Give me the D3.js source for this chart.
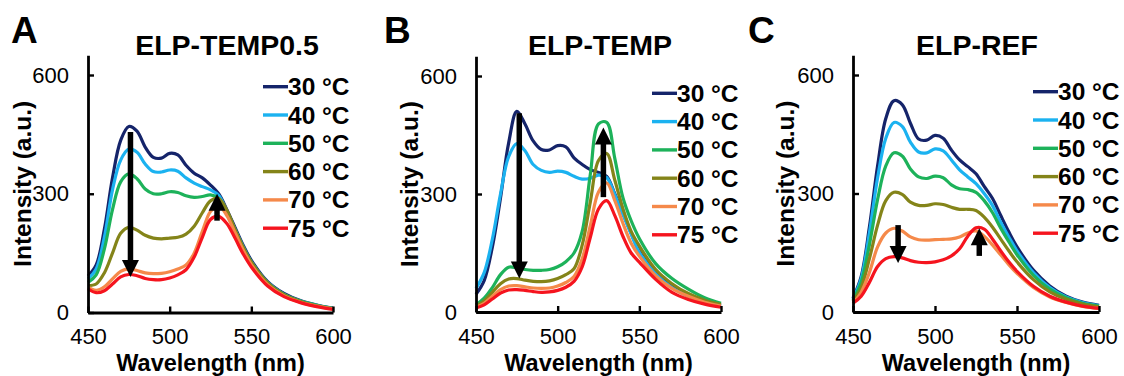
<!DOCTYPE html>
<html>
<head>
<meta charset="utf-8">
<script src="https://cdn.jsdelivr.net/npm/d3@7"></script>
<style>
  html, body { margin: 0; padding: 0; background: #fff; }
  svg { display: block; font-family: "Liberation Sans", Arial, sans-serif; }
</style>
</head>
<body>
<svg id="chart" width="1124" height="376"></svg>
<script>
// Emission spectra (a.u.) of three ELP constructs at six temperatures
const wavelengths = [450,455,460,465,470,475,480,485,490,495,500,505,510,515,520,525,530,535,540,545,550,560,570,580,590,600];
const temperatures = ["30 °C","40 °C","50 °C","60 °C","70 °C","75 °C"];
const xTicks = [450, 500, 550, 600];
const yTicks = [0, 300, 600];

const spectraTEMP05 = [
  [92,120,210,340,435,470,458,418,392,390,402,398,372,352,340,322,300,260,215,170,132,78,48,30,19,11],
  [85,110,190,310,385,413,405,375,356,355,360,357,340,327,318,310,296,255,210,166,128,76,46,29,18,10],
  [76,95,160,260,330,350,338,312,300,300,305,303,295,291,293,297,288,253,208,164,127,75,46,29,18,10],
  [68,72,100,150,200,215,208,195,188,186,188,190,198,218,252,282,288,258,210,165,127,75,45,28,17,10],
  [64,56,65,85,104,110,106,100,98,99,103,110,120,150,205,255,270,245,202,158,121,70,42,26,16,9],
  [60,50,55,72,90,96,93,86,83,83,87,95,108,140,190,235,243,225,188,148,115,67,40,25,15,8]
];
const spectraTEMP = [
  [45,80,165,290,430,510,478,435,413,412,423,420,392,375,362,355,345,300,250,200,155,100,65,42,27,17],
  [60,100,185,300,395,428,410,375,360,355,358,355,345,338,340,348,342,298,248,198,152,97,62,40,25,15],
  [18,35,62,95,114,112,108,106,106,108,115,128,150,205,350,478,482,390,290,232,187,123,85,58,36,22],
  [15,28,50,72,84,85,81,78,77,79,85,95,110,170,280,385,403,335,262,205,168,108,72,47,30,19],
  [12,22,40,57,66,67,64,61,60,61,66,75,90,135,220,305,328,283,225,175,142,92,60,40,25,15],
  [10,18,33,48,56,57,55,52,50,51,55,63,78,115,190,262,283,245,192,150,127,83,50,32,20,12]
];
const spectraREF = [
  [35,90,215,370,490,535,525,478,438,435,447,440,410,385,368,350,318,288,245,203,165,106,66,40,25,17],
  [33,85,200,340,440,480,470,430,405,403,413,408,385,360,342,325,300,270,228,190,155,100,62,38,24,16],
  [30,75,170,285,370,403,395,362,342,338,344,340,322,312,310,303,282,252,213,178,145,93,58,36,22,15],
  [26,62,135,220,282,303,298,278,270,270,274,272,265,260,260,257,240,215,185,155,127,82,51,32,20,13],
  [22,50,100,165,200,212,205,190,183,182,183,184,185,190,200,205,192,170,145,120,98,62,38,24,14,9],
  [22,40,75,115,135,140,137,130,126,125,127,132,142,160,192,213,210,185,155,127,103,65,40,25,15,9]
];

// Trend arrows: wavelength and start/end intensity
const arrowsTEMP05 = [{ wl: 476, from: 456, to: 90 }, { wl: 529, from: 232, to: 300 }];
const arrowsTEMP   = [{ wl: 476.5, from: 505, to: 85 }, { wl: 528, from: 292, to: 469 }];
const arrowsREF    = [{ wl: 477.5, from: 220, to: 124 }, { wl: 527, from: 142, to: 212 }];

const seriesColors = ["#15246a", "#1bb2f0", "#1db25a", "#848419", "#f5894a", "#f5141e"];

const panels = [
  { letter: "A", title: "ELP-TEMP0.5", data: spectraTEMP05, arrows: arrowsTEMP05,
    x0: 88, x1: 333, y0: 312.5, y600: 75, titleX: 227, letterX: 11, yTitleX: 31,
    legendX: 263, legendY: 86.7 },
  { letter: "B", title: "ELP-TEMP", data: spectraTEMP, arrows: arrowsTEMP,
    x0: 476, x1: 721, y0: 312, y600: 76, titleX: 600, letterX: 384, yTitleX: 418,
    legendX: 652, legendY: 93.3 },
  { letter: "C", title: "ELP-REF", data: spectraREF, arrows: arrowsREF,
    x0: 853, x1: 1099, y0: 312, y600: 75, titleX: 977, letterX: 748, yTitleX: 794,
    legendX: 1033, legendY: 91.7 }
];

const svg = d3.select("#chart");

panels.forEach(p => {
  const g = svg.append("g");
  const x = d3.scaleLinear().domain([450, 600]).range([p.x0, p.x1]);
  const yTop = p.y0 - (p.y0 - p.y600) * 650 / 600;
  const y = d3.scaleLinear().domain([0, 650]).range([p.y0, yTop]);

  // spectra
  const line = d3.line()
    .x((d, i) => x(wavelengths[i]))
    .y(d => y(d))
    .curve(d3.curveCatmullRom.alpha(0.5));
  p.data.forEach((vals, k) => {
    g.append("path")
      .attr("d", line(vals))
      .attr("fill", "none")
      .attr("stroke", seriesColors[k])
      .attr("stroke-width", 3.2)
      .attr("stroke-linejoin", "round");
  });

  // axes
  const xAxis = d3.axisBottom(x).tickValues(xTicks).tickSizeInner(-6).tickSizeOuter(0).tickPadding(16);
  const yAxis = d3.axisLeft(y).tickValues(yTicks).tickSizeInner(-6).tickSizeOuter(0).tickPadding(19);
  const gx = g.append("g").attr("transform", `translate(0,${p.y0})`).call(xAxis);
  const gy = g.append("g").attr("transform", `translate(${p.x0},0)`).call(yAxis);
  [gx, gy].forEach(a => {
    a.select(".domain").attr("stroke", "#000").attr("stroke-width", 2.8);
    a.selectAll(".tick line").attr("stroke", "#000").attr("stroke-width", 2.4);
    a.selectAll(".tick text").attr("fill", "#000").style("font-size", "22px")
      .style("font-family", "'Liberation Sans', Arial, sans-serif");
  });

  // arrows
  p.arrows.forEach(a => {
    const ax = x(a.wl), yFrom = y(a.from), yTip = y(a.to);
    const dir = yTip > yFrom ? 1 : -1;
    const headH = 17, headW = 17;
    const yBase = yTip - dir * headH;
    g.append("line")
      .attr("x1", ax).attr("x2", ax)
      .attr("y1", yFrom).attr("y2", yBase + dir * 1)
      .attr("stroke", "#000").attr("stroke-width", 5.5);
    g.append("path")
      .attr("d", `M${ax - headW / 2},${yBase}L${ax + headW / 2},${yBase}L${ax},${yTip}Z`)
      .attr("fill", "#000");
  });

  // legend
  temperatures.forEach((t, k) => {
    const cy = p.legendY + k * 28.3;
    g.append("line")
      .attr("x1", p.legendX).attr("x2", p.legendX + 25)
      .attr("y1", cy).attr("y2", cy)
      .attr("stroke", seriesColors[k]).attr("stroke-width", 3.4);
    g.append("text")
      .attr("x", p.legendX + 25).attr("y", cy).attr("dy", "0.35em")
      .style("font-size", "24.5px").style("font-weight", "bold")
      .text(t);
  });

  // titles and labels
  g.append("text")
    .attr("x", p.titleX).attr("y", 55).attr("text-anchor", "middle")
    .style("font-size", "28.5px").style("font-weight", "bold")
    .text(p.title);
  g.append("text")
    .attr("x", p.letterX).attr("y", 43)
    .style("font-size", "37px").style("font-weight", "bold")
    .text(p.letter);
  g.append("text")
    .attr("x", (p.x0 + p.x1) / 2).attr("y", 370.5).attr("text-anchor", "middle")
    .style("font-size", "23.5px").style("font-weight", "bold")
    .text("Wavelength (nm)");
  g.append("text")
    .attr("transform", `translate(${p.yTitleX},${(p.y0 + yTop) / 2}) rotate(-90)`)
    .attr("text-anchor", "middle")
    .style("font-size", "24.5px").style("font-weight", "bold")
    .text("Intensity (a.u.)");
});
</script>
</body>
</html>
